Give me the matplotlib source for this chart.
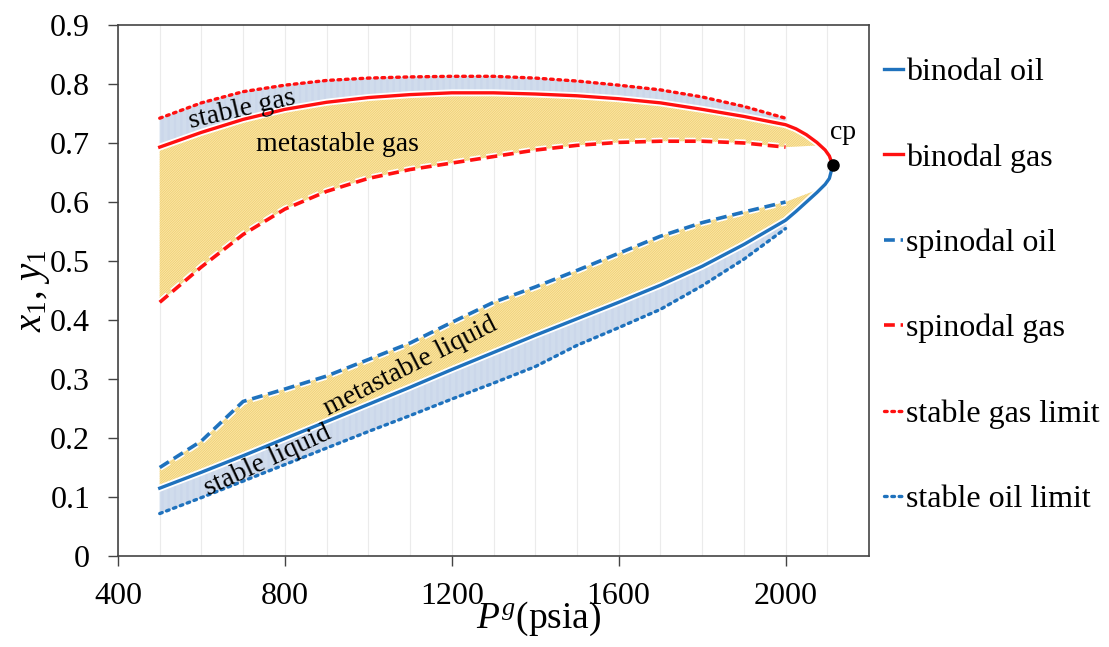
import numpy as np
import matplotlib
matplotlib.use("Agg")
import matplotlib.pyplot as plt
import matplotlib.patheffects as pe

plt.rcParams['font.family'] = ['Liberation Serif', 'DejaVu Serif']
plt.rcParams['mathtext.fontset'] = 'custom'
plt.rcParams['mathtext.rm'] = 'Liberation Serif'
plt.rcParams['mathtext.it'] = 'Liberation Serif:italic'
plt.rcParams['hatch.linewidth'] = 0.5

# gas pressure grid (psia)
P = [500, 600, 700, 800, 900, 1000, 1100, 1200, 1300, 1400,
     1500, 1600, 1700, 1800, 1900, 2000]

# binodal curves run on to the critical point
P_bin = P + [2025, 2050, 2075, 2095, 2105, 2113]
binodal_gas = [0.693, 0.718, 0.740, 0.757, 0.769, 0.777, 0.782, 0.785, 0.785, 0.783,
               0.780, 0.775, 0.768, 0.757, 0.745, 0.731,
               0.724, 0.714, 0.701, 0.688, 0.678, 0.662]
binodal_oil = [0.115, 0.142, 0.170, 0.199, 0.228, 0.257, 0.286, 0.316, 0.345, 0.374,
               0.402, 0.430, 0.459, 0.491, 0.528, 0.569,
               0.584, 0.600, 0.616, 0.630, 0.640, 0.662]

spinodal_gas = [0.430, 0.490, 0.545, 0.588, 0.618, 0.640, 0.655, 0.666, 0.677, 0.688,
                0.696, 0.701, 0.703, 0.703, 0.700, 0.693]
spinodal_oil = [0.150, 0.195, 0.262, 0.283, 0.305, 0.333, 0.361, 0.396, 0.430, 0.456,
                0.484, 0.513, 0.542, 0.565, 0.583, 0.600]

stable_gas_limit = [0.742, 0.768, 0.787, 0.798, 0.806, 0.810, 0.812, 0.813, 0.813, 0.810,
                    0.805, 0.798, 0.790, 0.778, 0.762, 0.742]
stable_oil_limit = [0.072, 0.099, 0.127, 0.155, 0.183, 0.211, 0.238, 0.266, 0.293, 0.321,
                    0.357, 0.387, 0.418, 0.458, 0.503, 0.555]

# tips where the metastable bands close
gas_tip = (2080, 0.696)
oil_tip = (2074, 0.620)

blue = '#1f72bd'
red = '#ff1010'
yellow_face = '#fae6a8'
yellow_hatch = '#efcd6c'
blue_face = '#e0e8f3'
blue_hatch = '#c2d1e7'

fig = plt.figure(figsize=(11.09, 6.47), dpi=100)
ax = fig.add_axes([0.1064, 0.1406, 0.6772, 0.8208])

Pa = np.array(P, dtype=float)
bg = np.interp(Pa, P_bin, binodal_gas)
bo = np.interp(Pa, P_bin, binodal_oil)

# metastable bands (between binodal and spinodal)
xg = np.append(Pa, gas_tip[0])
ax.fill_between(xg, np.append(np.array(spinodal_gas), gas_tip[1]),
                np.append(bg, np.interp(gas_tip[0], P_bin, binodal_gas)),
                facecolor=yellow_face, edgecolor=yellow_hatch, hatch='/' * 14, lw=0, zorder=1)
xo = np.append(Pa, oil_tip[0])
ax.fill_between(xo, np.append(bo, np.interp(oil_tip[0], P_bin, binodal_oil)),
                np.append(np.array(spinodal_oil), oil_tip[1]),
                facecolor=yellow_face, edgecolor=yellow_hatch, hatch='/' * 14, lw=0, zorder=1)

# stable bands (between binodal and stable limit)
ax.fill_between(Pa, bg, stable_gas_limit, facecolor=blue_face, edgecolor=blue_hatch,
                hatch='|' * 14, lw=0, zorder=1)
ax.fill_between(Pa, stable_oil_limit, bo, facecolor=blue_face, edgecolor=blue_hatch,
                hatch='|' * 14, lw=0, zorder=1)

halo = [pe.Stroke(linewidth=5, foreground='white'), pe.Normal()]
l1, = ax.plot(P_bin, binodal_oil, color=blue, lw=2.4, label='binodal oil', zorder=4,
              path_effects=halo)
l2, = ax.plot(P_bin, binodal_gas, color=red, lw=2.4, label='binodal gas', zorder=4,
              path_effects=halo)
l3, = ax.plot(P, spinodal_oil, color=blue, lw=2.6, ls=(0, (3, 1.6)), label='spinodal oil',
              zorder=3, path_effects=halo)
l4, = ax.plot(P, spinodal_gas, color=red, lw=2.6, ls=(0, (3, 1.6)), label='spinodal gas',
              zorder=3, path_effects=halo)
l5, = ax.plot(P, stable_gas_limit, color=red, lw=2.4, ls=(0, (0.8, 1.4)),
              dash_capstyle='round', label='stable gas limit', zorder=3)
l6, = ax.plot(P, stable_oil_limit, color=blue, lw=2.4, ls=(0, (0.8, 1.4)),
              dash_capstyle='round', label='stable oil limit', zorder=3)

ax.plot([P_bin[-1]], [binodal_gas[-1]], 'o', color='black', ms=8, zorder=5)
ax.text(P_bin[-1] + 25, binodal_gas[-1] + 0.035, 'cp', fontsize=20, ha='center', va='bottom')

ax.text(697, 0.757, 'stable gas', fontsize=20, rotation=13, ha='center', va='center', zorder=6)
ax.text(927, 0.698, 'metastable gas', fontsize=20, ha='center', va='center', zorder=6)
ax.text(1102, 0.321, 'metastable liquid', fontsize=20, rotation=27, ha='center',
        va='center', zorder=6)
ax.text(759, 0.161, 'stable liquid', fontsize=20, rotation=25, ha='center', va='center',
        zorder=6)

ax.set_xlim(400, 2200)
ax.set_ylim(0, 0.9)
ax.set_xticks(np.arange(400, 2001, 400))
ax.set_xticks(np.arange(500, 2200, 100), minor=True)
ax.set_yticks(np.arange(0, 0.91, 0.1))
ax.set_yticklabels(['0'] + ['%.1f' % v for v in np.arange(0.1, 0.91, 0.1)])
ax.grid(axis='x', which='both', color='#ebebeb', lw=0.8, zorder=0)
ax.set_axisbelow(True)
ax.tick_params(axis='both', which='major', direction='out', length=7, width=1,
               labelsize=23, color='#444444')
ax.tick_params(axis='x', which='minor', length=0)
ax.tick_params(axis='x', pad=12)
ax.tick_params(axis='y', pad=13)
for s in ax.spines.values():
    s.set_color('#444444')
    s.set_linewidth(1.2)

ax.set_xlabel(r'$P^{g}$(psia)', fontsize=27)
ax.xaxis.set_label_coords(0.56, -0.082)
ax.set_ylabel(r'$x_{\mathit{1}}$, $y_{\mathit{1}}$', fontsize=28)
ax.yaxis.set_label_coords(-0.088, 0.5)

fig.legend(handles=[l1, l2, l3, l4, l5, l6], loc='upper left',
           bbox_to_anchor=(0.771, 0.955), frameon=False, fontsize=23,
           handlelength=0.6, handletextpad=0.1, labelspacing=1.75)

fig.savefig('out.png', dpi=100)
